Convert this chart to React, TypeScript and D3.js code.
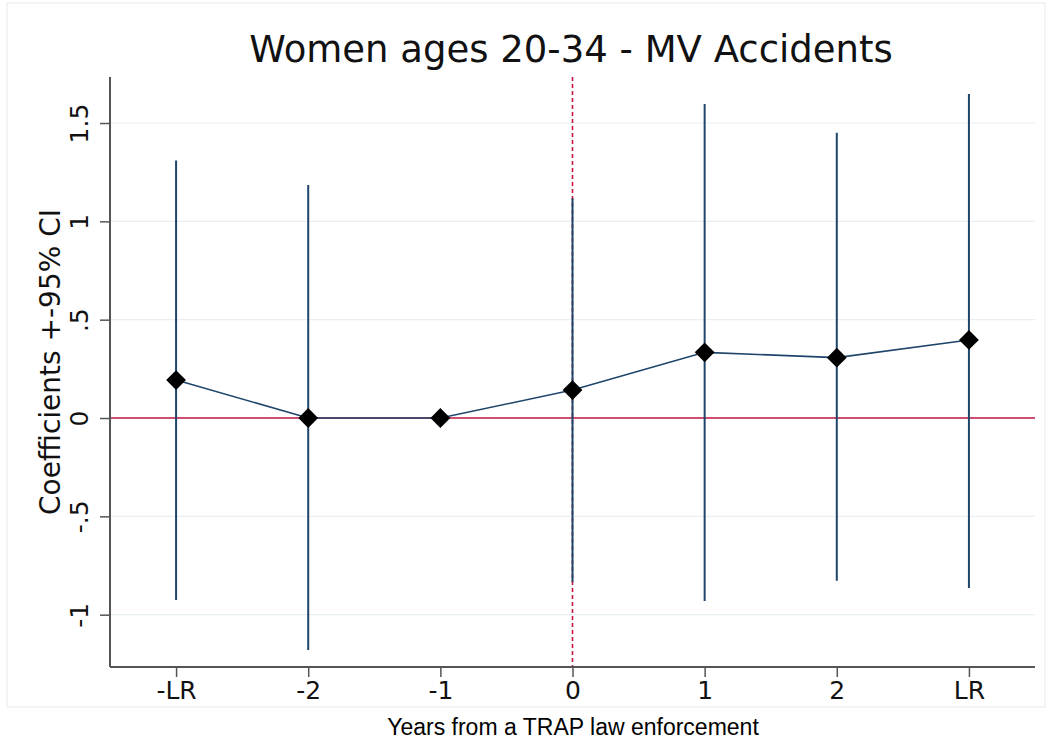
import * as React from "react";
import { useEffect, useRef } from "react";
import * as d3 from "d3";

// values
const periods = ["-LR", "-2", "-1", "0", "1", "2", "LR"];
const coefs = [0.193, 0.0, 0.0, 0.142, 0.334, 0.307, 0.397];
const ciLower = [-0.925, -1.18, null, -0.834, -0.93, -0.827, -0.864];
const ciUpper = [1.31, 1.185, null, 1.118, 1.597, 1.45, 1.647];
const yTicks = [-1, -0.5, 0, 0.5, 1, 1.5];
const yTickLabels = ["-1", "-.5", "0", ".5", "1", "1.5"];

const W = 1050;
const H = 740;
const navy = "#1f456a";
const cranberry = "#c4163f";

export default function App() {
  const ref = useRef<SVGSVGElement | null>(null);

  useEffect(() => {
    const svg = d3.select(ref.current);
    svg.selectAll("*").remove();

    const left = 110, right = 1035, top = 77, bottom = 667;

    const x = d3.scaleLinear().domain([-0.5, periods.length - 0.5]).range([left, right]);
    const y = d3.scaleLinear().domain([-1.266, 1.734]).range([bottom, top]);

    // faint outer frame
    svg.append("rect")
      .attr("x", 7).attr("y", 3).attr("width", 1038).attr("height", 704)
      .attr("fill", "white").attr("stroke", "#eef1f2").attr("stroke-width", 1.5);

    // gridlines
    svg.append("g").selectAll("line")
      .data(yTicks)
      .enter().append("line")
      .attr("x1", left).attr("x2", right)
      .attr("y1", d => y(d)).attr("y2", d => y(d))
      .attr("stroke", "#e8eff1").attr("stroke-width", 1.2);

    // zero line
    svg.append("line")
      .attr("x1", left).attr("x2", right)
      .attr("y1", y(0)).attr("y2", y(0))
      .attr("stroke", cranberry).attr("stroke-width", 1.6);

    // dashed line at year 0
    svg.append("line")
      .attr("x1", x(3)).attr("x2", x(3))
      .attr("y1", top).attr("y2", bottom)
      .attr("stroke", cranberry).attr("stroke-width", 1.6)
      .attr("stroke-dasharray", "4,3");

    // confidence intervals
    const ciData = periods.map((p, i) => ({ i, lo: ciLower[i], hi: ciUpper[i] }))
      .filter(d => d.lo !== null && d.hi !== null);
    svg.append("g").selectAll("line")
      .data(ciData)
      .enter().append("line")
      .attr("x1", d => x(d.i)).attr("x2", d => x(d.i))
      .attr("y1", d => y(d.lo as number)).attr("y2", d => y(d.hi as number))
      .attr("stroke", navy).attr("stroke-width", 2);

    // connecting line
    const line = d3.line<number>()
      .x((d, i) => x(i))
      .y(d => y(d));
    svg.append("path")
      .datum(coefs)
      .attr("d", line)
      .attr("fill", "none")
      .attr("stroke", navy)
      .attr("stroke-width", 1.6);

    // diamond markers
    const diamond = d3.symbol().type(d3.symbolDiamond2).size(250);
    svg.append("g").selectAll("path")
      .data(coefs)
      .enter().append("path")
      .attr("d", diamond)
      .attr("transform", (d, i) => "translate(" + x(i) + "," + y(d) + ")")
      .attr("fill", "black");

    // axes
    const axisColor = "#555";
    const yAxis = d3.axisLeft(y).tickValues(yTicks).tickSize(10)
      .tickFormat((d, i) => yTickLabels[i]);
    const gy = svg.append("g")
      .attr("transform", "translate(" + left + ",0)")
      .call(yAxis);
    gy.select(".domain").attr("d", "M0," + top + "V" + bottom).attr("stroke", axisColor).attr("stroke-width", 2);
    gy.selectAll(".tick line").attr("stroke", axisColor).attr("stroke-width", 1.5);
    gy.selectAll(".tick text")
      .attr("x", null).attr("dy", null)
      .attr("transform", "translate(-22,0) rotate(-90)")
      .attr("text-anchor", "middle")
      .attr("font-family", "DejaVu Sans")
      .attr("font-size", 25)
      .attr("fill", "#111");

    const xAxis = d3.axisBottom(x).tickValues(d3.range(periods.length)).tickSize(10)
      .tickFormat((d, i) => periods[i]);
    const gx = svg.append("g")
      .attr("transform", "translate(0," + bottom + ")")
      .call(xAxis);
    gx.select(".domain").attr("d", "M" + left + ",0H" + right).attr("stroke", axisColor).attr("stroke-width", 2);
    gx.selectAll(".tick line").attr("stroke", axisColor).attr("stroke-width", 1.5);
    gx.selectAll(".tick text")
      .attr("y", 14)
      .attr("dy", "0.71em")
      .attr("font-family", "DejaVu Sans")
      .attr("font-size", 25)
      .attr("fill", "#111");

    // titles
    svg.append("text")
      .attr("x", 571).attr("y", 62)
      .attr("text-anchor", "middle")
      .attr("font-family", "DejaVu Sans")
      .attr("font-size", 37)
      .attr("fill", "#111")
      .text("Women ages 20-34 - MV Accidents");

    svg.append("text")
      .attr("transform", "translate(60," + 362 + ") rotate(-90)")
      .attr("text-anchor", "middle")
      .attr("font-family", "DejaVu Sans")
      .attr("font-size", 28)
      .attr("fill", "#111")
      .text("Coefficients +-95% CI");

    svg.append("text")
      .attr("x", 573).attr("y", 735)
      .attr("text-anchor", "middle")
      .attr("font-family", "Liberation Sans, Arial")
      .attr("font-size", 23)
      .attr("fill", "#000")
      .text("Years from a TRAP law enforcement");
  }, []);

  return (
    <svg ref={ref} width={W} height={H}
      style={{ position: "absolute", left: 0, top: 0, background: "white" }} />
  );
}
